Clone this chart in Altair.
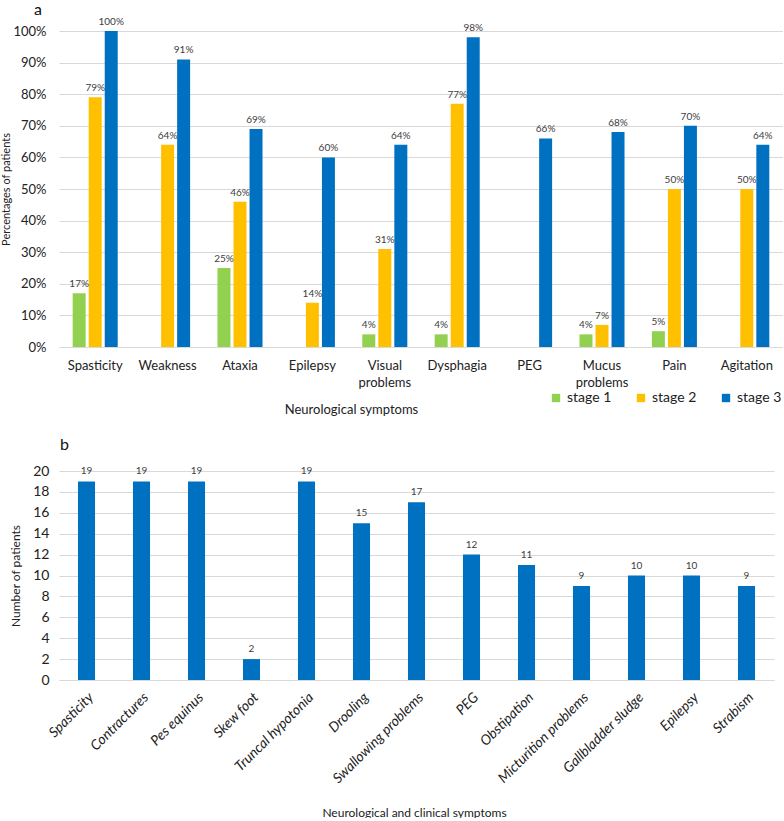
import altair as alt
import pandas as pd

FONT = "Lato"

# Panel a: percentage of patients per neurological symptom and disease stage
symptoms_a = ["Spasticity", "Weakness", "Ataxia", "Epilepsy", "Visual problems",
              "Dysphagia", "PEG", "Mucus problems", "Pain", "Agitation"]
stages = ["stage 1", "stage 2", "stage 3"]
stage1 = [17, 0, 25, 0, 4, 4, 0, 4, 5, 0]
stage2 = [79, 64, 46, 14, 31, 77, 0, 7, 50, 50]
stage3 = [100, 91, 69, 60, 64, 98, 66, 68, 70, 64]
stage_colors = ["#92D050", "#FFC000", "#0070C0"]

# Panel b: number of patients per neurological / clinical symptom
symptoms_b = ["Spasticity", "Contractures", "Pes equinus", "Skew foot", "Truncal hypotonia",
              "Drooling", "Swallowing problems", "PEG", "Obstipation", "Micturition problems",
              "Gallbladder sludge", "Epilepsy", "Strabism"]
counts_b = [19, 19, 19, 2, 19, 15, 17, 12, 11, 9, 10, 10, 9]

rows = []
for stage, series in zip(stages, [stage1, stage2, stage3]):
    for sym, v in zip(symptoms_a, series):
        if v > 0:
            rows.append({"symptom": sym, "stage": stage, "pct": v / 100, "label": f"{v}%"})
df_a = pd.DataFrame(rows)
df_b = pd.DataFrame({"symptom": symptoms_b, "count": counts_b})

grid = "#D9D9D9"
txt = "#404040"
dark = "#222222"

x_a = alt.X("symptom:N", sort=symptoms_a,
            scale=alt.Scale(paddingInner=0.378, paddingOuter=0.189),
            axis=alt.Axis(title="Neurological symptoms", labelAngle=0,
                          labelExpr="split(datum.label, ' ')",
                          labelFontSize=13, labelColor=dark, labelPadding=12,
                          labelLineHeight=17, ticks=False, domainColor=grid,
                          titleFontSize=13, titleFontWeight="normal", titleColor=dark,
                          titleX=292, titleY=62, titleBaseline="middle", titleAnchor="middle"))
xo_a = alt.XOffset("stage:N", scale=alt.Scale(domain=stages, paddingInner=0.19, paddingOuter=0))
y_a = alt.Y("pct:Q", scale=alt.Scale(domain=[0, 1], nice=False),
            axis=alt.Axis(title="Percentages of patients", format=".0%", tickCount=11,
                          values=[i / 10 for i in range(11)], labelOverlap=False,
                          labelFontSize=13, labelColor=dark, labelPadding=13,
                          ticks=False, domain=False, gridColor=grid,
                          titleFontSize=11, titleFontWeight="normal", titleColor=dark,
                          titleX=-48))

bars_a = alt.Chart(df_a).mark_bar().encode(
    x=x_a, xOffset=xo_a, y=y_a,
    color=alt.Color("stage:N", scale=alt.Scale(domain=stages, range=stage_colors),
                    legend=alt.Legend(title=None, orient="none", direction="horizontal",
                                      legendX=490, legendY=360, symbolType="square",
                                      symbolSize=70, symbolStrokeWidth=0,
                                      labelFontSize=14, labelColor=dark,
                                      columnPadding=22, labelFont=FONT)),
)
text_a = alt.Chart(df_a).mark_text(baseline="bottom", dy=-4, fontSize=10, color=txt).encode(
    x=alt.X("symptom:N", sort=symptoms_a), xOffset=alt.XOffset("stage:N"),
    y="pct:Q", text="label:N",
)
panel_a = alt.layer(bars_a, text_a).properties(
    width=724, height=316,
    title=alt.TitleParams("a", anchor="start", dx=34, fontSize=16, fontWeight="normal",
                          color="#111", offset=-1),
)

x_b = alt.X("symptom:N", sort=symptoms_b,
            scale=alt.Scale(paddingInner=0.69, paddingOuter=0.345),
            axis=alt.Axis(title="Neurological and clinical symptoms", labelAngle=-45,
                          labelFontSize=14, labelFontStyle="italic", labelColor=dark,
                          labelPadding=10, ticks=False, domainColor=grid,
                          titleFontSize=12, titleFontWeight="normal", titleColor=dark,
                          titleX=355, titleY=132, titleBaseline="middle", titleAnchor="middle"))
y_b = alt.Y("count:Q", scale=alt.Scale(domain=[0, 20], nice=False),
            axis=alt.Axis(title="Number of patients", values=list(range(0, 21, 2)),
                          tickCount=11, labelOverlap=False,
                          labelFontSize=14, labelColor=dark, labelPadding=10,
                          ticks=False, domain=False, gridColor=grid,
                          titleFontSize=12, titleFontWeight="normal", titleColor=dark,
                          titleX=-37))
bars_b = alt.Chart(df_b).mark_bar(color="#0070C0").encode(x=x_b, y=y_b)
text_b = alt.Chart(df_b).mark_text(baseline="bottom", dy=-5, fontSize=10, color=txt).encode(
    x=alt.X("symptom:N", sort=symptoms_b), y="count:Q", text="count:Q",
)
panel_b = alt.layer(bars_b, text_b).properties(
    width=715, height=209,
    title=alt.TitleParams("b", anchor="start", dx=51, fontSize=16, fontWeight="normal",
                          color="#111", offset=11),
)

chart = alt.vconcat(panel_a, panel_b, spacing=21).properties(
    padding={"top": 2, "left": 0, "right": 0, "bottom": 0},
).configure(font=FONT).configure_view(stroke=None).configure_title(frame="bounds")

chart.save("out.html", embed_options={"renderer": "svg", "actions": False})
